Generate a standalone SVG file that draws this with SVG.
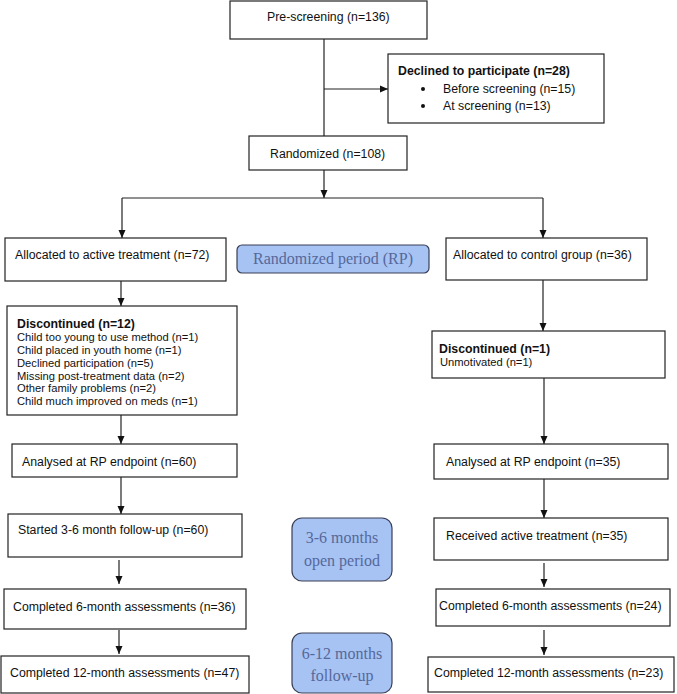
<svg xmlns="http://www.w3.org/2000/svg" width="677" height="694" viewBox="0 0 677 694">
<style>
.box{fill:#fff;stroke:#222;stroke-width:1.2}
.blue{fill:#a6c3f4;stroke:#3a3f55;stroke-width:1.2}
.t{font-family:"Liberation Sans",Arial,sans-serif;font-size:12.3px;fill:#111}
.b{font-family:"Liberation Sans",Arial,sans-serif;font-size:12.3px;font-weight:bold;fill:#111}
.s{font-family:"Liberation Sans",Arial,sans-serif;font-size:11.2px;fill:#111}
.bt{font-family:"Liberation Serif","Times New Roman",serif;font-size:16px;fill:#56689a;text-anchor:middle}
.c{fill:none;stroke:#222;stroke-width:1.2}
</style>
<defs>
<marker id="ah" markerWidth="8" markerHeight="8" refX="8" refY="4" orient="auto" markerUnits="userSpaceOnUse">
<path d="M0,0.5 L8,4 L0,7.5 Z" fill="#111"/>
</marker>
</defs>
<g id="connectors">
<line class="c" x1="324" y1="39" x2="324" y2="136"/>
<line class="c" x1="324" y1="89" x2="388" y2="89" marker-end="url(#ah)"/>
<line class="c" x1="324" y1="170" x2="324" y2="198" marker-end="url(#ah)"/>
<line class="c" x1="122" y1="198" x2="543" y2="198"/>
<line class="c" x1="122" y1="198" x2="122" y2="238" marker-end="url(#ah)"/>
<line class="c" x1="543" y1="198" x2="543" y2="238" marker-end="url(#ah)"/>
<line class="c" x1="121" y1="281" x2="121" y2="306" marker-end="url(#ah)"/>
<line class="c" x1="121" y1="415" x2="121" y2="444" marker-end="url(#ah)"/>
<line class="c" x1="121" y1="477" x2="121" y2="514" marker-end="url(#ah)"/>
<line class="c" x1="119" y1="560" x2="119" y2="584" marker-end="url(#ah)"/>
<line class="c" x1="119" y1="630" x2="119" y2="654" marker-end="url(#ah)"/>
<line class="c" x1="543" y1="280" x2="543" y2="331" marker-end="url(#ah)"/>
<line class="c" x1="544" y1="378" x2="544" y2="444" marker-end="url(#ah)"/>
<line class="c" x1="544" y1="479" x2="544" y2="518" marker-end="url(#ah)"/>
<line class="c" x1="544" y1="563" x2="544" y2="587" marker-end="url(#ah)"/>
<line class="c" x1="544" y1="630" x2="544" y2="655" marker-end="url(#ah)"/>
</g>
<g id="prescreening">
<rect class="box" x="230" y="1" width="197" height="38"/>
<text class="t" x="267" y="21">Pre-screening (n=136)</text>
</g>
<g id="declined">
<rect class="box" x="388" y="54" width="216" height="69"/>
<text class="b" x="398" y="75">Declined to participate (n=28)</text>
<circle cx="423" cy="89" r="2" fill="#111"/>
<text class="t" x="443" y="93">Before screening (n=15)</text>
<circle cx="423" cy="106" r="2" fill="#111"/>
<text class="t" x="443" y="110">At screening (n=13)</text>
</g>
<g id="randomized">
<rect class="box" x="249" y="136" width="158" height="34"/>
<text class="t" x="270" y="158">Randomized (n=108)</text>
</g>
<g id="alloc-active">
<rect class="box" x="5" y="238" width="221" height="43"/>
<text class="t" x="15" y="259">Allocated to active treatment (n=72)</text>
</g>
<g id="rp-label">
<rect class="blue" x="237" y="245" width="192" height="28" rx="5"/>
<text class="bt" x="333" y="264">Randomized period (RP)</text>
</g>
<g id="alloc-control">
<rect class="box" x="446" y="238" width="201" height="42"/>
<text class="t" x="453" y="259">Allocated to control group (n=36)</text>
</g>
<g id="disc-active">
<rect class="box" x="7" y="306" width="230" height="109"/>
<text class="b" x="17" y="328">Discontinued (n=12)</text>
<text class="s" x="17" y="341">Child too young to use method (n=1)</text>
<text class="s" x="17" y="354">Child placed in youth home (n=1)</text>
<text class="s" x="17" y="366.5">Declined participation (n=5)</text>
<text class="s" x="17" y="379.5">Missing post-treatment data (n=2)</text>
<text class="s" x="17" y="392">Other family problems (n=2)</text>
<text class="s" x="17" y="405">Child much improved on meds (n=1)</text>
</g>
<g id="disc-control">
<rect class="box" x="432" y="331" width="233" height="47"/>
<text class="b" x="439" y="353">Discontinued (n=1)</text>
<text class="s" x="440" y="366">Unmotivated (n=1)</text>
</g>
<g id="analysed-active">
<rect class="box" x="12" y="444" width="225" height="33"/>
<text class="t" x="22" y="466">Analysed at RP endpoint (n=60)</text>
</g>
<g id="analysed-control">
<rect class="box" x="434" y="444" width="234" height="35"/>
<text class="t" x="446" y="466">Analysed at RP endpoint (n=35)</text>
</g>
<g id="started">
<rect class="box" x="8" y="514" width="234" height="43"/>
<text class="t" x="18" y="534">Started 3-6 month follow-up (n=60)</text>
</g>
<g id="open-label">
<rect class="blue" x="292" y="518" width="100" height="63" rx="10"/>
<text class="bt" x="342" y="543">3-6 months</text>
<text class="bt" x="342" y="566">open period</text>
</g>
<g id="received">
<rect class="box" x="434" y="518" width="234" height="42"/>
<text class="t" x="446" y="540">Received active treatment (n=35)</text>
</g>
<g id="c6-active">
<rect class="box" x="4" y="589" width="242" height="40"/>
<text class="t" x="13" y="611">Completed 6-month assessments (n=36)</text>
</g>
<g id="c6-control">
<rect class="box" x="436" y="589" width="234" height="37"/>
<text class="t" x="439" y="610">Completed 6-month assessments (n=24)</text>
</g>
<g id="fu-label">
<rect class="blue" x="292" y="633" width="100" height="60" rx="10"/>
<text class="bt" x="342" y="659">6-12 months</text>
<text class="bt" x="342" y="681">follow-up</text>
</g>
<g id="c12-active">
<rect class="box" x="1" y="656" width="248" height="37"/>
<text class="t" x="10" y="677">Completed 12-month assessments (n=47)</text>
</g>
<g id="c12-control">
<rect class="box" x="428" y="657" width="246" height="35"/>
<text class="t" x="434" y="677">Completed 12-month assessments (n=23)</text>
</g>
</svg>
